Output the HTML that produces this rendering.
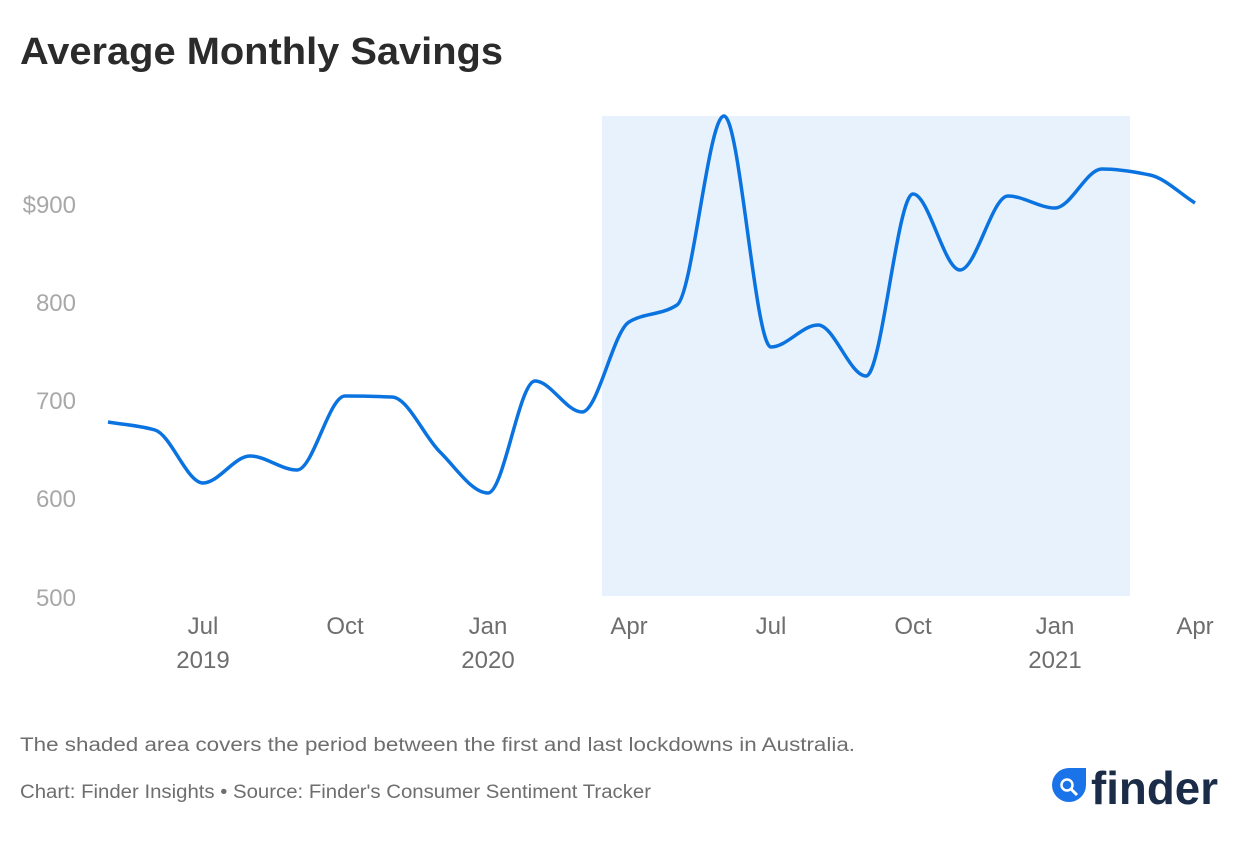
<!DOCTYPE html>
<html><head><meta charset="utf-8"><style>
body{margin:0;background:#fff;width:1240px;height:840px;overflow:hidden;font-family:"Liberation Sans",sans-serif}
</style></head><body>
<svg width="1240" height="840" xmlns="http://www.w3.org/2000/svg" font-family="Liberation Sans, sans-serif">
<text x="20" y="64" font-size="38" font-weight="bold" fill="#2b2b2b" textLength="483" lengthAdjust="spacingAndGlyphs">Average Monthly Savings</text>
<rect x="602" y="116" width="528" height="480" fill="#e8f2fd"/>
<g font-size="24" fill="#a8a8a8" text-anchor="end">
<text x="76" y="213">$900</text><text x="76" y="311">800</text><text x="76" y="409">700</text><text x="76" y="507">600</text><text x="76" y="606">500</text>
</g>
<g font-size="24" fill="#6e6e6e" text-anchor="middle">
<text x="203" y="634">Jul</text><text x="203" y="668">2019</text>
<text x="345" y="634">Oct</text>
<text x="488" y="634">Jan</text><text x="488" y="668">2020</text>
<text x="629" y="634">Apr</text>
<text x="771" y="634">Jul</text>
<text x="913" y="634">Oct</text>
<text x="1055" y="634">Jan</text><text x="1055" y="668">2021</text>
<text x="1195" y="634">Apr</text>
</g>
<path id="ln" fill="none" stroke="#0a73e0" stroke-width="3.5" stroke-linejoin="round"/>
<text x="20" y="751" font-size="19" fill="#6e6e6e" textLength="835" lengthAdjust="spacingAndGlyphs">The shaded area covers the period between the first and last lockdowns in Australia.</text>
<text x="20" y="798" font-size="19" fill="#6e6e6e" textLength="631" lengthAdjust="spacingAndGlyphs">Chart: Finder Insights • Source: Finder's Consumer Sentiment Tracker</text>
<g transform="translate(1052,766)">
<path d="M17 2 H34 V19 A17 17 0 1 1 17 2 Z" fill="#1a73e8"/>
<circle cx="15" cy="19" r="5.5" fill="none" stroke="#fff" stroke-width="2.5"/>
<line x1="19" y1="23" x2="25" y2="29" stroke="#fff" stroke-width="3"/>
<text x="39" y="38" font-size="46" font-weight="bold" fill="#1b2c48" textLength="127" lengthAdjust="spacingAndGlyphs">finder</text>
</g>
</svg>
<script>
var p=[[108,422],[155,430],[203,483],[250,456],[297,470],[345,396],[392,397],[440,452],[488,493],[535,381],[582,412],[629,322],[677,305],[724,116],[771,347],[818,325],[866,376],[913,194],[960,270],[1008,196],[1055,208],[1102,169],[1150,175],[1195,203]];
var n=p.length,dl=[],m=[];
for(var i=0;i<n-1;i++)dl.push((p[i+1][1]-p[i][1])/(p[i+1][0]-p[i][0]));
m[0]=dl[0];m[n-1]=dl[n-2];
for(var i=1;i<n-1;i++){ if(dl[i-1]*dl[i]<=0)m[i]=0; else { var h0=p[i][0]-p[i-1][0],h1=p[i+1][0]-p[i][0];var w1=2*h1+h0,w2=h1+2*h0;m[i]=(w1+w2)/(w1/dl[i-1]+w2/dl[i]);}}
var d="M"+p[0][0]+","+p[0][1];
for(var i=0;i<n-1;i++){var h=(p[i+1][0]-p[i][0])/3;
d+=" C"+(p[i][0]+h)+","+(p[i][1]+m[i]*h)+" "+(p[i+1][0]-h)+","+(p[i+1][1]-m[i+1]*h)+" "+p[i+1][0]+","+p[i+1][1];}
document.getElementById("ln").setAttribute("d",d);
</script>
</body></html>
